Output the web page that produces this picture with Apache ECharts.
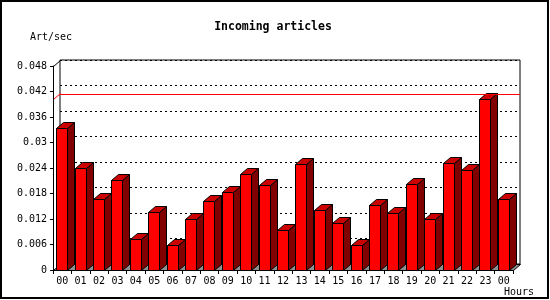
<!DOCTYPE html>
<html>
<head>
<meta charset="utf-8">
<script src="https://cdn.jsdelivr.net/npm/echarts@6/dist/echarts.min.js"></script>
<style>html,body{margin:0;padding:0;background:#fff}#c{width:550px;height:300px}</style>
</head>
<body>
<div id="c"></div>
<script>
const categories = ['00','01','02','03','04','05','06','07','08','09','10','11','12','13','14','15','16','17','18','19','20','21','22','23','00'];
const values = [0.0335,0.0239,0.0166,0.0211,0.0072,0.0137,0.0060,0.0119,0.0162,0.0183,0.0226,0.0199,0.0093,0.0249,0.0141,0.0110,0.0060,0.0152,0.0133,0.0202,0.0119,0.0251,0.0235,0.0402,0.0166];
const yTickLabels = ['0','0.006','0.012','0.018','0.024','0.03','0.036','0.042','0.048'];
const yStep = 0.006;
const yMax = 0.048;
const maxLineValue = 0.0402;

const DX = 7, DY = 6;
const FONT = 'DejaVu Sans Mono';
const chart = echarts.init(document.getElementById('c'), null, {renderer: 'canvas'});

function crisp(v){ return Math.round(v) + 0.5; }

const option = {
  animation: false,
  backgroundColor: '#fff',
  grid: [
    {left: 53, right: 37, top: 66, bottom: 30},
    {left: 53 + DX, right: 37 - DX, top: 66 - DY, bottom: 30 + DY, show: true, borderColor: '#000', borderWidth: 1, backgroundColor: 'transparent', z: 0}
  ],
  xAxis: [
    {type: 'category', gridIndex: 0, data: categories, boundaryGap: true, z: 10,
      axisLine: {show: true, lineStyle: {color: '#000', width: 1}},
      axisTick: {show: true, length: 4, interval: 0, lineStyle: {color: '#000'}},
      axisLabel: {interval: 0, color: '#000', fontFamily: FONT, fontSize: 10, margin: 6},
      splitLine: {show: false}},
    {type: 'category', gridIndex: 1, data: categories, show: false}
  ],
  yAxis: [
    {type: 'value', gridIndex: 0, min: 0, max: yMax, interval: yStep, z: 10,
      axisLine: {show: true, lineStyle: {color: '#000', width: 1}},
      axisTick: {show: true, length: 3, lineStyle: {color: '#000'}},
      axisLabel: {color: '#000', fontFamily: FONT, fontSize: 10, margin: 6,
        formatter: function(v){ return yTickLabels[Math.round(v / yStep)]; }},
      splitLine: {show: false}},
    {type: 'value', gridIndex: 1, min: 0, max: yMax, interval: yStep,
      axisLine: {show: false}, axisTick: {show: false}, axisLabel: {show: false},
      splitLine: {show: true, lineStyle: {color: '#000', width: 1, type: [2, 3]}}}
  ],
  series: [
    {
      type: 'custom', xAxisIndex: 0, yAxisIndex: 0, z: 1, clip: false, silent: true,
      data: [[0, maxLineValue]],
      renderItem: function(params, api){
        const cs = params.coordSys;
        const gx = Math.round(cs.x) + 0.5, gy = Math.round(cs.y) + 0.5;
        const gr = Math.round(cs.x + cs.width) + 0.5, gb = Math.round(cs.y + cs.height) + 0.5;
        const ly = crisp(api.coord([0, api.value(1)])[1]);
        return {type: 'group', children: [
          {type: 'polygon', shape: {points: [[gx, gb],[gx+DX, gb-DY],[gr+DX, gb-DY],[gr, gb]]},
            style: {fill: '#909090', stroke: '#000', lineWidth: 1}},
          {type: 'line', shape: {x1: gx, y1: ly, x2: gx+DX, y2: ly-DY},
            style: {stroke: '#ff0000', lineWidth: 1}},
          {type: 'line', shape: {x1: gx, y1: gy, x2: gx+DX, y2: gy-DY},
            style: {stroke: '#000', lineWidth: 1}}
        ]};
      }
    },
    {
      type: 'line', xAxisIndex: 1, yAxisIndex: 1, z: 1, silent: true,
      data: values, symbol: 'none', lineStyle: {opacity: 0}, itemStyle: {opacity: 0},
      markLine: {
        silent: true, symbol: ['none', 'none'], label: {show: false}, animation: false,
        lineStyle: {color: '#ff0000', type: 'solid', width: 1, opacity: 1},
        emphasis: {disabled: true},
        data: [{yAxis: maxLineValue}]
      }
    },
    {
      type: 'custom', xAxisIndex: 0, yAxisIndex: 0, z: 3, clip: false,
      data: values.map(function(v, i){ return [i, v]; }),
      renderItem: function(params, api){
        const i = api.value(0), v = api.value(1);
        const base = api.coord([i, 0]);
        const top = api.coord([i, v]);
        const l = Math.round(base[0] - 6) + 0.5;
        const r = l + 11;
        const b = crisp(base[1]);
        const t = crisp(top[1]);
        const st = {stroke: '#000', lineWidth: 1};
        return {type: 'group', children: [
          {type: 'polygon', shape: {points: [[r, b],[r, t],[r+DX, t-DY],[r+DX, b-DY]]},
            style: Object.assign({fill: '#800000'}, st)},
          {type: 'polygon', shape: {points: [[l, t],[l+DX, t-DY],[r+DX, t-DY],[r, t]]},
            style: Object.assign({fill: '#cc0000'}, st)},
          {type: 'polygon', shape: {points: [[l, b],[l, t],[r, t],[r, b]]},
            style: Object.assign({fill: '#ff0000'}, st)}
        ]};
      }
    }
  ],
  graphic: [
    {type: 'rect', shape: {x: 1, y: 1, width: 547, height: 297}, style: {fill: null, stroke: '#000', lineWidth: 2}, z: 100},
    {type: 'text', x: 273, y: 27, style: {text: 'Incoming articles', fontFamily: FONT, fontWeight: 'bold', fontSize: 11.5, fill: '#000', textAlign: 'center', textVerticalAlign: 'middle'}},
    {type: 'text', x: 30, y: 37, style: {text: 'Art/sec', fontFamily: FONT, fontSize: 10, fill: '#000', textAlign: 'left', textVerticalAlign: 'middle'}},
    {type: 'text', x: 534, y: 292, style: {text: 'Hours', fontFamily: FONT, fontSize: 10, fill: '#000', textAlign: 'right', textVerticalAlign: 'middle'}}
  ]
};
chart.setOption(option);
</script>
</body>
</html>
